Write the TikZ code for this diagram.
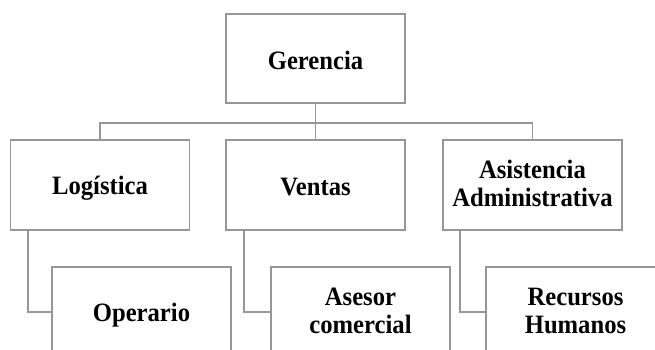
\documentclass[tikz,border=0pt]{standalone}
\usepackage{fontspec}
\setmainfont{Liberation Serif}[FakeStretch=0.93]
\definecolor{linea}{RGB}{150,150,150}
\newcommand\puntal{\rule[-3.2pt]{0pt}{28pt}}
\tikzset{caja/.style={draw=linea,line width=1.7pt,rectangle,minimum width=179pt,minimum height=90pt,inner sep=0pt,align=center,font=\fontsize{26.5}{28}\selectfont\bfseries,execute at begin node=\puntal},
conector/.style={draw=linea,line width=1.7pt}}
\begin{document}
\begin{tikzpicture}[x=1pt,y=-1pt]
\clip (0,0) rectangle (655,350);
\fill[white] (0,0) rectangle (655,350);
\node[caja,minimum height=89pt] (ger) at (315.5,58.5){Gerencia};
\node[caja] (log) at (100,185){Logística};
\node[caja] (ven) at (315.5,185){Ventas};
\node[caja] (asi) at (532.5,185){Asistencia\\\puntal Administrativa};
\node[caja] (ope) at (141.5,312){Operario};
\node[caja] (ase) at (360.5,312){Asesor\\\puntal comercial};
\node[caja] (rec) at (575.5,312){Recursos\\\puntal Humanos};
\coordinate (bus) at (315.5,123);
\draw[conector] (ger.south) -- (ven.north);
\draw[conector] (log.north) |- (bus) -| (asi.north);
\draw[conector] ([xshift=18pt]log.south west) |- (ope.west);
\draw[conector] ([xshift=19pt]ven.south west) |- (ase.west);
\draw[conector] ([xshift=18pt]asi.south west) |- (rec.west);
\end{tikzpicture}
\end{document}
